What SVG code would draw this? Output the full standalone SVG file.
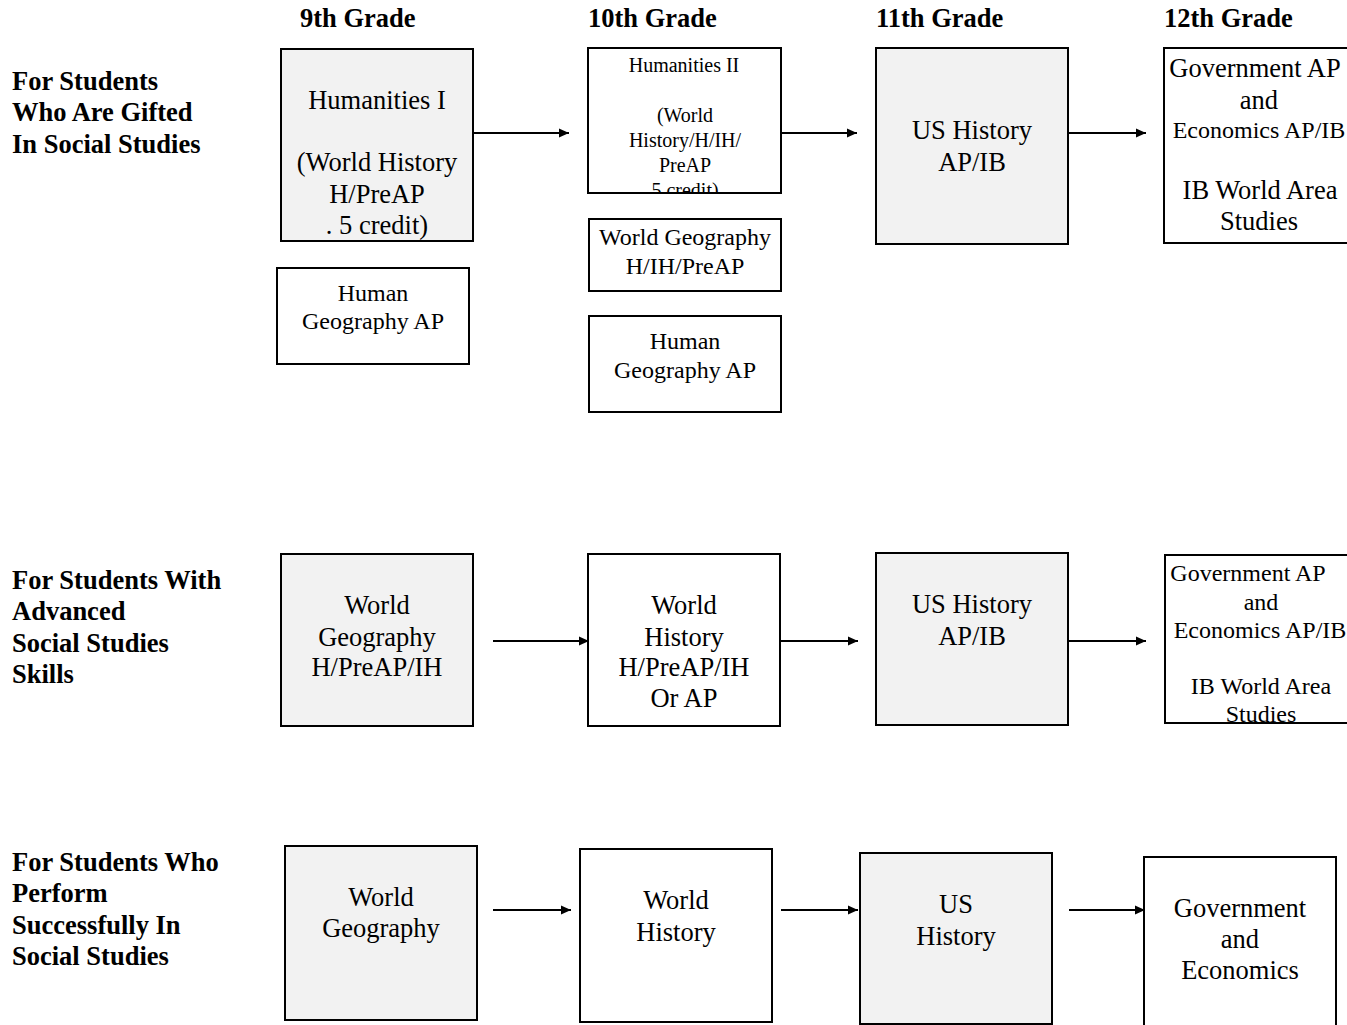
<svg xmlns="http://www.w3.org/2000/svg" width="1347" height="1025" viewBox="0 0 1347 1025">
<defs>
<style>
text{font-family:"Liberation Serif","Times New Roman",serif;fill:#000}
.h{font-size:26.5px;font-weight:bold}
.lbl{font-size:26.5px;font-weight:bold}
.t{font-size:26.5px;text-anchor:middle}
.m{font-size:24px;text-anchor:middle}
.s{font-size:20px;text-anchor:middle}
.box{stroke:#000;stroke-width:2}
.g{fill:#f2f2f2}
.w{fill:#fff}
.c{stroke:#000;stroke-width:2;fill:none;marker-end:url(#ah)}
</style>
<marker id="ah" viewBox="0 0 10 10" refX="10" refY="5" markerWidth="6" markerHeight="5" orient="auto" markerUnits="strokeWidth"><path d="M0,0.5 L10,5 L0,9.5 z" fill="#000"/></marker>
<clipPath id="cH2"><rect x="589" y="49" width="191" height="143"/></clipPath>
<clipPath id="c12b"><rect x="1166" y="556" width="181" height="166"/></clipPath>
</defs>
<rect width="1347" height="1025" fill="#fff"/>
<g id="headers">
<text class="h" x="300" y="27">9th Grade</text>
<text class="h" x="588" y="27">10th Grade</text>
<text class="h" x="876" y="27">11th Grade</text>
<text class="h" x="1164" y="27">12th Grade</text>
</g>
<g id="row-labels">
<text class="lbl" x="12" y="90">For Students</text>
<text class="lbl" x="12" y="121">Who Are Gifted</text>
<text class="lbl" x="12" y="153">In Social Studies</text>
<text class="lbl" x="12" y="589">For Students With</text>
<text class="lbl" x="12" y="620">Advanced</text>
<text class="lbl" x="12" y="652">Social Studies</text>
<text class="lbl" x="12" y="683">Skills</text>
<text class="lbl" x="12" y="871">For Students Who</text>
<text class="lbl" x="12" y="902">Perform</text>
<text class="lbl" x="12" y="934">Successfully In</text>
<text class="lbl" x="12" y="965">Social Studies</text>
</g>
<g id="connectors">
<line class="c" x1="473" y1="133" x2="569" y2="133"/>
<line class="c" x1="781" y1="133" x2="857" y2="133"/>
<line class="c" x1="1068" y1="133" x2="1146" y2="133"/>
<line class="c" x1="493" y1="641" x2="589" y2="641"/>
<line class="c" x1="780" y1="641" x2="858" y2="641"/>
<line class="c" x1="1068" y1="641" x2="1146" y2="641"/>
<line class="c" x1="493" y1="910" x2="571" y2="910"/>
<line class="c" x1="781" y1="910" x2="858" y2="910"/>
<line class="c" x1="1069" y1="910" x2="1145" y2="910"/>
</g>
<g id="humanities1">
<rect class="box g" x="281" y="49" width="192" height="192"/>
<text class="t" x="377" y="109">Humanities I</text>
<text class="t" x="377" y="171">(World History</text>
<text class="t" x="377" y="203">H/PreAP</text>
<text class="t" x="377" y="234">. 5 credit)</text>
</g>
<g id="humangeo9">
<rect class="box w" x="277" y="268" width="192" height="96"/>
<text class="m" x="373" y="301">Human</text>
<text class="m" x="373" y="329">Geography AP</text>
</g>
<g id="humanities2">
<rect class="box w" x="588" y="48" width="193" height="145"/>
<g clip-path="url(#cH2)">
<text class="s" x="684" y="72">Humanities II</text>
<text class="s" x="685" y="122">(World</text>
<text class="s" x="685" y="147">History/H/IH/</text>
<text class="s" x="685" y="172">PreAP</text>
<text class="s" x="685" y="197">5 credit)</text>
</g>
</g>
<g id="worldgeo10">
<rect class="box w" x="589" y="219" width="192" height="72"/>
<text class="m" x="685" y="245">World Geography</text>
<text class="m" x="685" y="274">H/IH/PreAP</text>
</g>
<g id="humangeo10">
<rect class="box w" x="589" y="316" width="192" height="96"/>
<text class="m" x="685" y="349">Human</text>
<text class="m" x="685" y="378">Geography AP</text>
</g>
<g id="ush1">
<rect class="box g" x="876" y="48" width="192" height="196"/>
<text class="t" x="972" y="139">US History</text>
<text class="t" x="972" y="171">AP/IB</text>
</g>
<g id="gov1">
<rect class="box w" x="1164" y="48" width="200" height="195"/>
<text class="t" x="1255" y="77">Government AP</text>
<text class="t" x="1259" y="109">and</text>
<text class="m" x="1259" y="138">Economics AP/IB</text>
<text class="t" x="1260" y="199">IB World Area</text>
<text class="t" x="1259" y="230">Studies</text>
</g>
<g id="worldgeo2">
<rect class="box g" x="281" y="554" width="192" height="172"/>
<text class="t" x="377" y="614">World</text>
<text class="t" x="377" y="646">Geography</text>
<text class="t" x="377" y="676">H/PreAP/IH</text>
</g>
<g id="worldhist2">
<rect class="box w" x="588" y="554" width="192" height="172"/>
<text class="t" x="684" y="614">World</text>
<text class="t" x="684" y="646">History</text>
<text class="t" x="684" y="676">H/PreAP/IH</text>
<text class="t" x="684" y="707">Or AP</text>
</g>
<g id="ush2">
<rect class="box g" x="876" y="553" width="192" height="172"/>
<text class="t" x="972" y="613">US History</text>
<text class="t" x="972" y="645">AP/IB</text>
</g>
<g id="gov2">
<rect class="box w" x="1165" y="555" width="200" height="168"/>
<g clip-path="url(#c12b)">
<text class="m" x="1248" y="581">Government AP</text>
<text class="m" x="1261" y="610">and</text>
<text class="m" x="1260" y="638">Economics AP/IB</text>
<text class="m" x="1261" y="694">IB World Area</text>
<text class="m" x="1261" y="722">Studies</text>
</g>
</g>
<g id="worldgeo3">
<rect class="box g" x="285" y="846" width="192" height="174"/>
<text class="t" x="381" y="906">World</text>
<text class="t" x="381" y="937">Geography</text>
</g>
<g id="worldhist3">
<rect class="box w" x="580" y="849" width="192" height="173"/>
<text class="t" x="676" y="909">World</text>
<text class="t" x="676" y="941">History</text>
</g>
<g id="ush3">
<rect class="box g" x="860" y="853" width="192" height="171"/>
<text class="t" x="956" y="913">US</text>
<text class="t" x="956" y="945">History</text>
</g>
<g id="gov3">
<rect class="box w" x="1144" y="857" width="192" height="180"/>
<text class="t" x="1240" y="917">Government</text>
<text class="t" x="1240" y="948">and</text>
<text class="t" x="1240" y="979">Economics</text>
</g>
</svg>
